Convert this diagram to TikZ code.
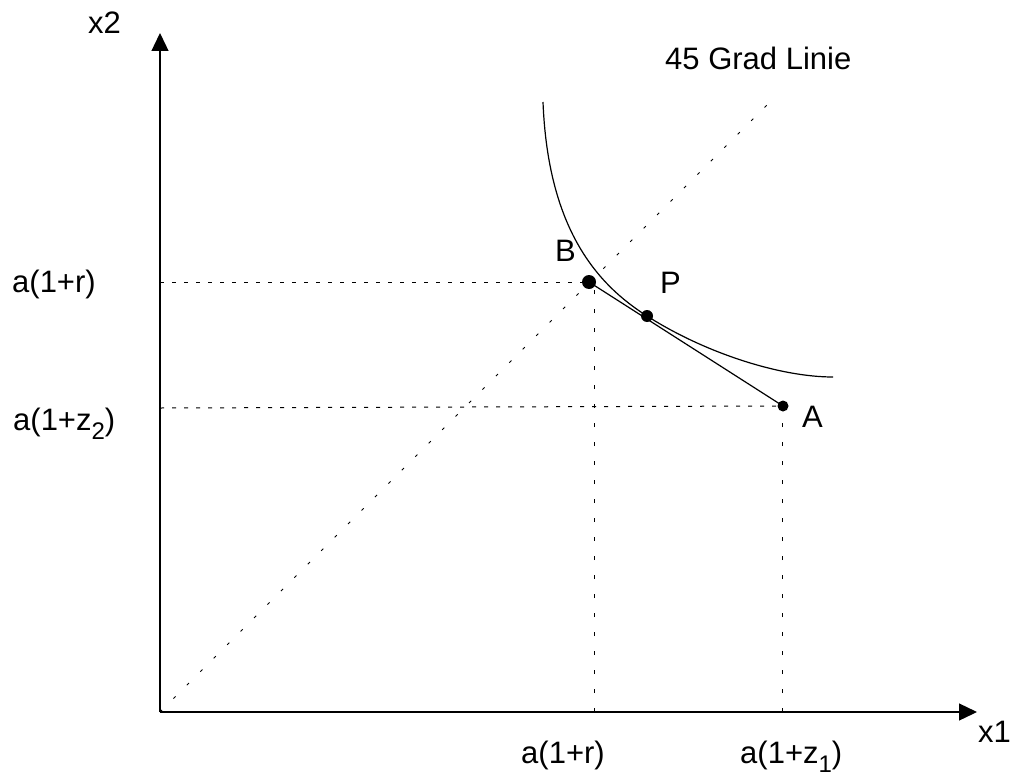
\documentclass[tikz,border=0pt]{standalone}
\usepackage{fontspec}
\setmainfont{Liberation Sans}
\usetikzlibrary{arrows.meta}
\newcommand\lowsub[1]{\raisebox{-0.32em}{\fontsize{24}{24}\selectfont #1}}
\tikzset{
  lbl/.style={anchor=base west, inner sep=0pt, font=\fontsize{31}{36}\selectfont},
  axis/.style={line width=1.3pt, -{Triangle[length=18pt,width=17pt]}},
  hguide/.style={line width=1pt, dash pattern=on 4pt off 8pt},
  vguide/.style={line width=1pt, dash pattern=on 4pt off 15pt},
  diag/.style={line width=1pt, dash pattern=on 3pt off 16pt},
  dot/.style={circle, fill=black, inner sep=0pt, minimum size=#1},
  curve/.style={line width=1.2pt}
}
\begin{document}
\begin{tikzpicture}[x=1pt,y=-1pt]
\useasboundingbox (0,0) rectangle (1016,776);
% coordinates
\coordinate (O) at (160,712);
\coordinate (Ytip) at (160,33);
\coordinate (Xtip) at (977,712);
\coordinate (yB) at (160,282);
\coordinate (xB) at (594,712);
\coordinate (tB) at (594,282);
\coordinate (yA) at (160,408);
\coordinate (xA) at (782,712);
\coordinate (tA) at (782,408);
\coordinate (D) at (777,95);
\coordinate (C0) at (543,102);
\coordinate (C3) at (833,377);
% points
\node[dot=14pt] (B) at (589,282) {};
\node[dot=12pt] (P) at (647,316) {};
\node[dot=11pt] (A) at (783,406) {};
% guides
\draw[diag] (O) -- (D);
\draw[hguide] (yB) -- (B.west);
\draw[vguide] (xB) -- (tB);
\draw[hguide] (yA) -- (A.west);
\draw[vguide] (xA) -- (tA);
% axes
\draw[axis] (O) -- (Ytip);
\draw[axis] (O) -- (Xtip);
% curve and budget line
\draw[curve] (C0) .. controls (548,230) and (598,285) .. (P.center)
  .. controls (705,353) and (780,377) .. (C3);
\draw[line width=1.2pt] (B.center) -- (A.center);
% labels
\node[lbl] (lx2) at (88,34) {x2};
\node[lbl] (lx1) at (978,742) {x1};
\node[lbl] (l45) at (665,69) {45 Grad Linie};
\node[lbl] (lyr) at (12,292) {a(1+r)};
\node[lbl] (lyz) at (13,430) {a(1+z\lowsub{2})};
\node[lbl] (lxr) at (521,763) {a(1+r)};
\node[lbl] (lxz) at (740,763) {a(1+z\lowsub{1})};
\node[lbl] (lB) at (555,261) {B};
\node[lbl] (lP) at (660,293) {P};
\node[lbl] (lA) at (802,427) {A};
\end{tikzpicture}
\end{document}
